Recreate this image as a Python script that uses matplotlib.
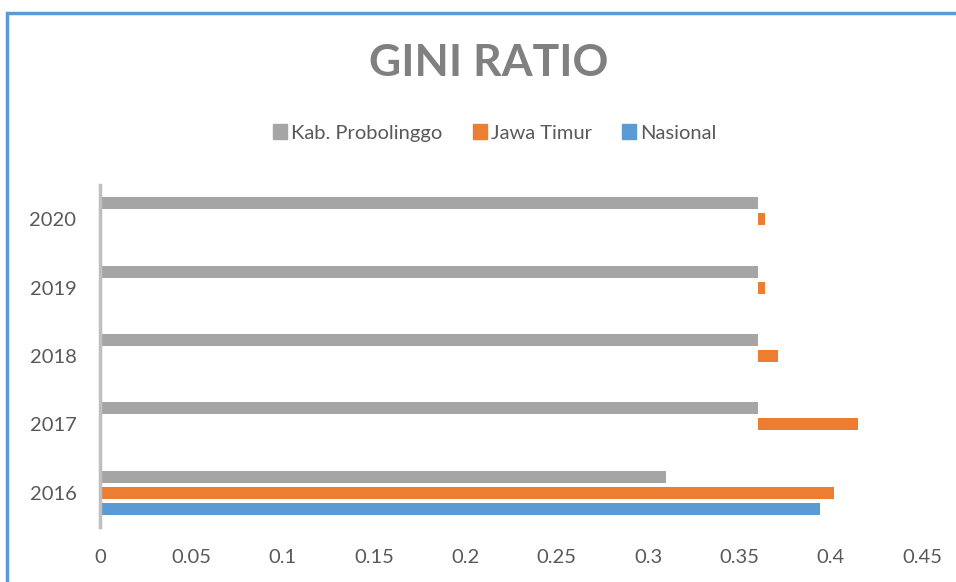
import matplotlib
matplotlib.use("Agg")
import matplotlib.pyplot as plt
from matplotlib.patches import Rectangle, Patch
import numpy as np

plt.rcParams['font.family'] = ['Lato', 'DejaVu Sans']

years = ['2016', '2017', '2018', '2019', '2020']
kab_probolinggo = [0.310, 0.360, 0.360, 0.360, 0.360]
jawa_timur = [0.402, 0.415, 0.371, 0.364, 0.364]
jawa_timur_visible_from = [0.0, 0.360, 0.360, 0.360, 0.360]
nasional = [0.394, None, None, None, None]

c_gray = '#A5A5A5'
c_orange = '#ED7D31'
c_blue = '#5B9BD5'
txt = '#595959'

fig = plt.figure(figsize=(9.56, 5.82), dpi=100)
ax = fig.add_axes([100/956, 1-527/582, (922-100)/956, (527-185)/582])

y = np.arange(len(years))
h = 0.175
off = 0.235
ax.barh(y + off, kab_probolinggo, height=h, color=c_gray)
jt_w = [v - s for v, s in zip(jawa_timur, jawa_timur_visible_from)]
ax.barh(y, jt_w, left=jawa_timur_visible_from, height=h, color=c_orange)
nas_y = [yy - off for yy, v in zip(y, nasional) if v is not None]
nas_v = [v for v in nasional if v is not None]
ax.barh(nas_y, nas_v, height=h, color=c_blue)

ax.set_xlim(0, 0.45)
ax.set_ylim(-0.5, len(years) - 0.5)
ax.set_yticks(y)
ax.set_yticklabels(years)
xt = np.arange(0, 0.451, 0.05)
ax.set_xticks(xt)
ax.set_xticklabels(['0', '0.05', '0.1', '0.15', '0.2', '0.25', '0.3', '0.35', '0.4', '0.45'])
for s in ['top', 'right', 'bottom']:
    ax.spines[s].set_visible(False)
ax.spines['left'].set_color('#BFBFBF')
ax.spines['left'].set_linewidth(2.5)
ax.tick_params(axis='both', length=0, labelsize=14.5, colors=txt)
ax.tick_params(axis='x', pad=16)
ax.tick_params(axis='y', pad=17)

fig.text(489/956, 1-63/582, 'GINI RATIO', ha='center', va='center',
         fontsize=32, fontweight='bold', color='#808080')

handles = [Patch(color=c_gray, label='Kab. Probolinggo'),
           Patch(color=c_orange, label='Jawa Timur'),
           Patch(color=c_blue, label='Nasional')]
fig.legend(handles=handles, loc='center', bbox_to_anchor=(495/956, 1-133/582),
           ncol=3, frameon=False, fontsize=14.5, labelcolor=txt,
           handlelength=0.7, handleheight=0.7, handletextpad=0.2, columnspacing=1.5)

fig.patches.append(Rectangle((7/956, -0.1), 1.2, 1 - 13/582 + 0.1, transform=fig.transFigure,
                             fill=False, edgecolor=c_blue, linewidth=2.5))

fig.savefig('out.png', dpi=100)
